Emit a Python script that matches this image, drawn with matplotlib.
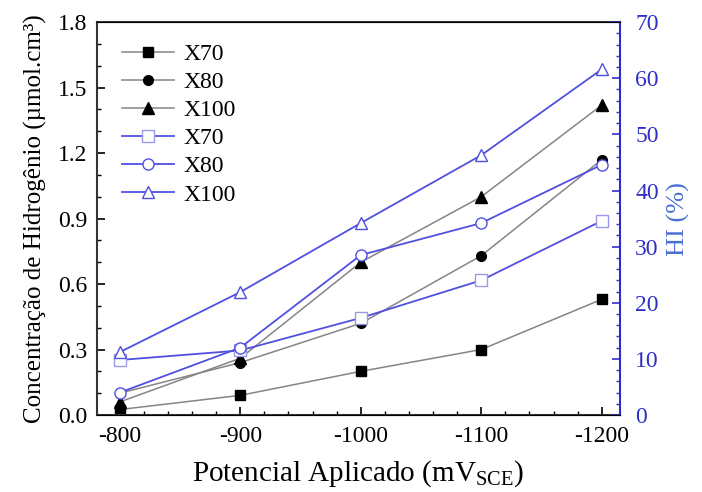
import matplotlib
matplotlib.use("Agg")
import matplotlib.pyplot as plt
from matplotlib.ticker import MultipleLocator

plt.rcParams['font.family'] = ['Liberation Serif', 'DejaVu Serif']
plt.rcParams['mathtext.fontset'] = 'custom'
plt.rcParams['mathtext.rm'] = 'Liberation Serif'
plt.rcParams['axes.unicode_minus'] = False

potencial = [-800, -900, -1000, -1100, -1200]

# concentracao de hidrogenio (umol.cm3), eixo esquerdo
conc_x70 = [0.025, 0.09, 0.20, 0.30, 0.53]
conc_x80 = [0.10, 0.24, 0.42, 0.73, 1.17]
conc_x100 = [0.06, 0.26, 0.70, 1.00, 1.42]

# HI (%), eixo direito
hi_x70 = [9.8, 11.5, 17.3, 24.0, 34.6]
hi_x80 = [4.0, 12.0, 28.5, 34.2, 44.6]
hi_x100 = [11.2, 21.9, 34.2, 46.3, 61.6]

gray = '#858585'
blue = '#5050e0'
tick_blue = '#2f2fc8'

fig = plt.figure(figsize=(7.02, 4.92), dpi=100)
ax = fig.add_axes([0.138, 0.1565, 0.745, 0.7985])
ax2 = ax.twinx()

l1, = ax.plot(potencial, conc_x70, '-s', color=gray, mfc='black', mec='black', ms=7, lw=1.1, label='X70')
l2, = ax.plot(potencial, conc_x80, '-o', color=gray, mfc='black', mec='black', ms=7, lw=1.1, label='X80')
l3, = ax.plot(potencial, conc_x100, '-^', color=gray, mfc='black', mec='black', ms=8, lw=1.1, label='X100')

l4, = ax2.plot(potencial, hi_x70, '-s', color=blue, mfc='white', mec='#9a9ae8', ms=8, lw=1.3, label='X70')
l5, = ax2.plot(potencial, hi_x80, '-o', color=blue, mfc='white', mec=blue, ms=8, lw=1.3, label='X80')
l6, = ax2.plot(potencial, hi_x100, '-^', color=blue, mfc='white', mec=blue, ms=9, lw=1.3, label='X100')

ax.set_xlim(-781, -1215)
ax.set_ylim(0, 1.8)
ax2.set_ylim(0, 70)

ax.set_xticks(potencial)
ax.xaxis.set_minor_locator(MultipleLocator(20))
ax.yaxis.set_major_locator(MultipleLocator(0.3))
ax.yaxis.set_minor_locator(MultipleLocator(0.1))
ax.yaxis.set_major_formatter(plt.FormatStrFormatter('%.1f'))
ax2.yaxis.set_major_locator(MultipleLocator(10))
ax2.yaxis.set_minor_locator(MultipleLocator(2))

ax.tick_params(which='both', direction='in', labelsize=17, top=False)
ax.tick_params(which='major', length=6, width=1.2)
ax.tick_params(which='minor', length=3, width=1)
ax.tick_params(axis='x', pad=8)
ax.tick_params(axis='y', pad=7)
ax2.tick_params(which='both', direction='in', colors=tick_blue, labelsize=17, pad=11)
ax2.tick_params(which='major', length=6, width=1.2)
ax2.tick_params(which='minor', length=3, width=1)

for s in ['left', 'bottom', 'top']:
    ax.spines[s].set_color('#333333')
    ax.spines[s].set_linewidth(1.5)
ax2.spines['right'].set_color(tick_blue)
ax2.spines['right'].set_linewidth(1.5)
ax2.spines['left'].set_visible(False)
ax.spines['right'].set_visible(False)

ax.set_xlabel(r'Potencial Aplicado (mV$_{\mathrm{SCE}}$)', fontsize=21, labelpad=8)
ax.set_ylabel('Concentração de Hidrogênio (µmol.cm³)', fontsize=18, labelpad=8)
ax2.set_ylabel('HI (%)', fontsize=19, color='#4a6fd0', labelpad=6)

ax.legend([l1, l2, l3, l4, l5, l6], ['X70', 'X80', 'X100', 'X70', 'X80', 'X100'],
          loc='upper left', bbox_to_anchor=(0.03, 0.97), frameon=False, fontsize=17,
          handlelength=2.2, labelspacing=0.28, handletextpad=0.4, borderaxespad=0)

fig.savefig('out.png', dpi=100)
